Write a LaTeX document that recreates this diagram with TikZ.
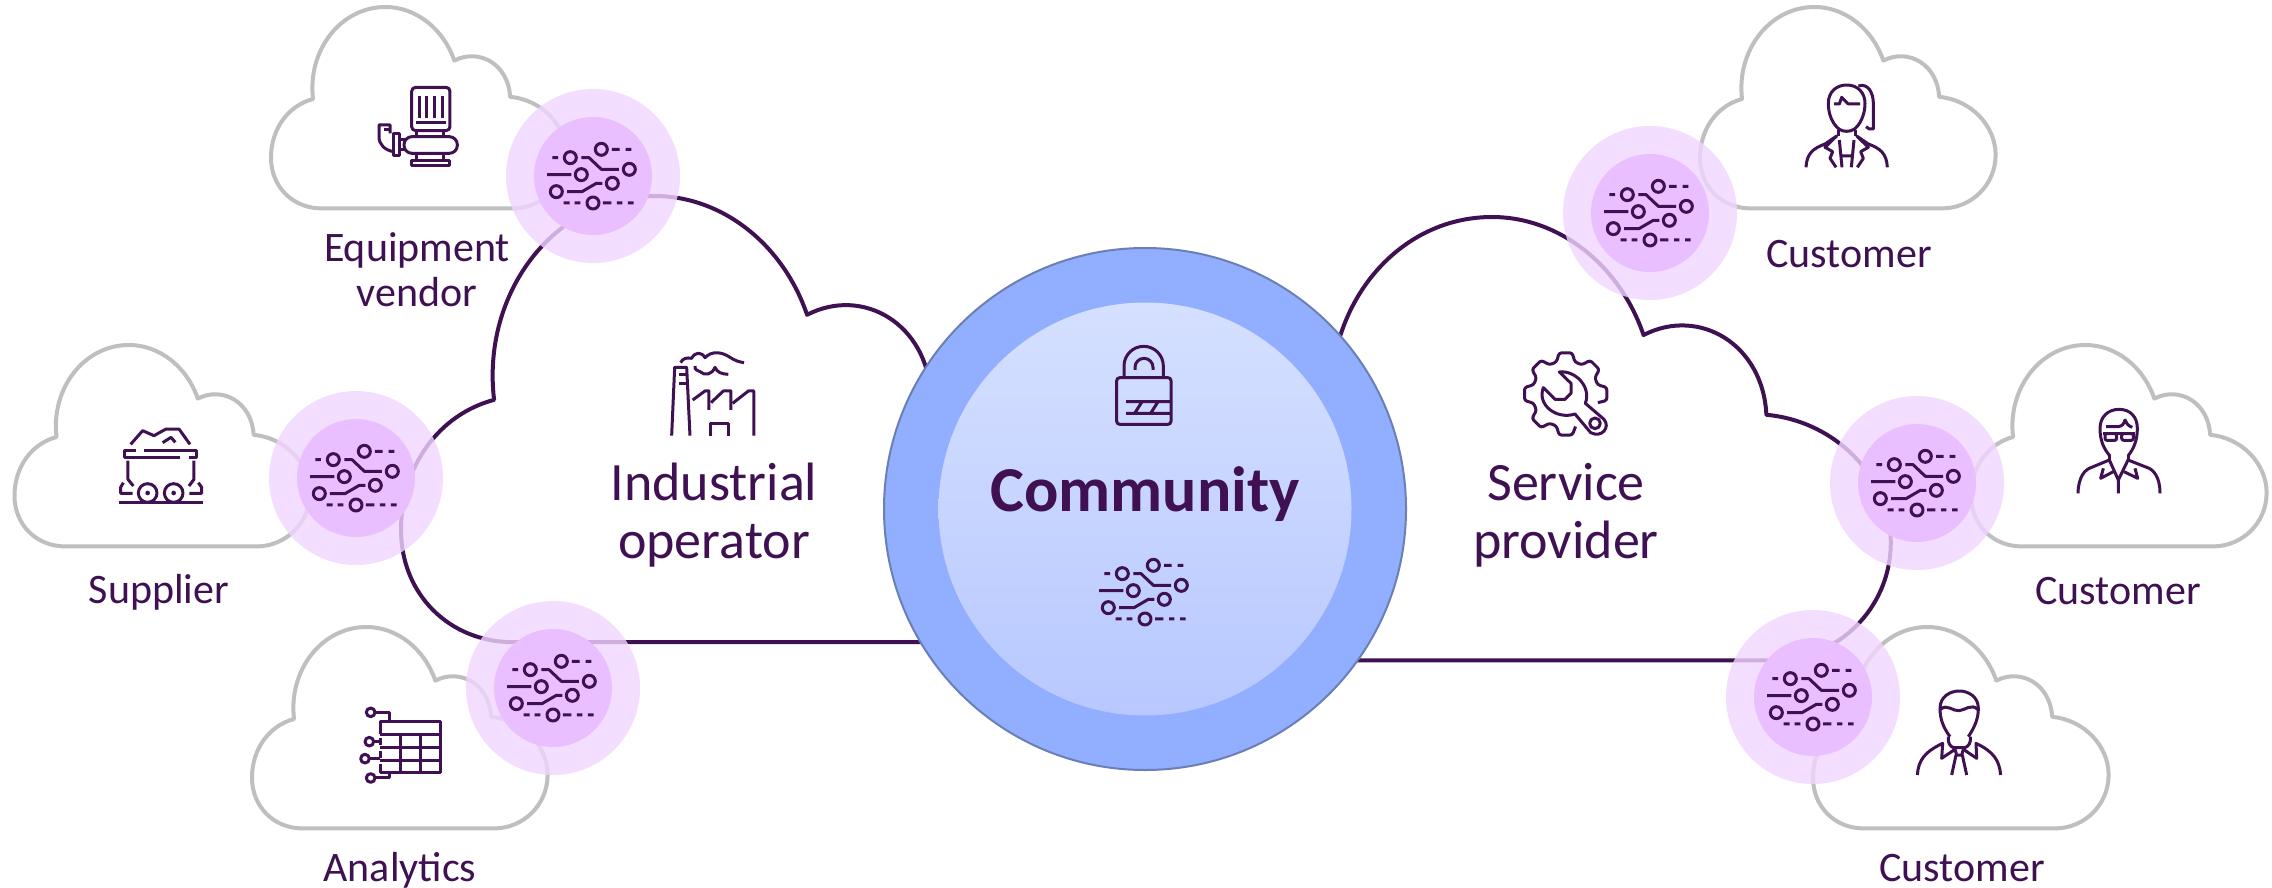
\documentclass[tikz,border=0pt]{standalone}
\usepackage{fontspec}
\setmainfont{Carlito}
\definecolor{dark}{HTML}{3F1152}
\definecolor{cloudgray}{HTML}{BFBFBF}
\definecolor{ringc}{HTML}{F1D6FF}
\definecolor{corec}{HTML}{EABFFF}
\definecolor{commouter}{HTML}{92AEFF}
\definecolor{commedge}{HTML}{6A7FB5}
\definecolor{commtop}{HTML}{D5E0FF}
\definecolor{commbot}{HTML}{B8C8FF}
\tikzset{
  icon/.style={draw=dark,line width=3pt,line cap=butt,line join=round},
  smallcloud/.style={draw=cloudgray,line width=4pt,fill=white,line join=round},
  bigcloud/.style={draw=dark,line width=4pt,fill=white,line join=round},
  smalllabel/.style={text=dark,font=\fontsize{42}{46}\selectfont,anchor=base,inner sep=0pt},
  biglabel/.style={text=dark,font=\fontsize{54}{60}\selectfont,anchor=base,inner sep=0pt},
  titlelabel/.style={text=dark,font=\fontsize{64}{68}\selectfont\bfseries,anchor=base,inner sep=0pt}
}
\newcommand{\mycloud}[4]{%
\begin{scope}[shift={(#1,#2)},x=#3pt,y=-#3pt]
\draw[#4] (35,139) .. controls (15,139) and (0,124) .. (0,104)
 .. controls (0,84) and (12,68) .. (29,63.5)
 .. controls (25,30) and (48,0) .. (79,0)
 .. controls (100,0) and (119,15) .. (126.5,37)
 .. controls (144,28) and (164,40) .. (165,62)
 .. controls (187,64) and (204,82) .. (204,102)
 .. controls (204,123) and (187,139) .. (167,139) -- cycle;
\end{scope}}
\newcommand{\chipicon}[2]{%
\begin{scope}[shift={({#1-113.33},{#2-175.67})},x=0.3333pt,y=-0.3333pt]
\draw[icon] (272,472) circle[radius=18] (365,447) circle[radius=18] (449,507) circle[radius=18]
 (305,523) circle[radius=18] (398,549) circle[radius=18] (230,574) circle[radius=18] (340,608) circle[radius=18];
\draw[icon] (218,472)--(235,472) (305,472)--(328,472)--(365,507)--(418,507)
 (397,447)--(420,447) (438,447)--(455,447) (202,523)--(275,523)
 (262,574)--(307,574)--(350,549)--(368,549)
 (252,608)--(270,608) (285,608)--(302,608) (370,608)--(395,608) (412,608)--(428,608) (445,608)--(462,608);
\end{scope}}
\newcommand{\chiprings}[2]{%
\fill[ringc,opacity=.8] (#1,#2) circle[radius=87];
\fill[corec] (#1,#2) circle[radius=59];
\chipicon{#1}{#2}}
\begin{document}
\begin{tikzpicture}[x=1pt,y=-1pt]
\useasboundingbox (0,0) rectangle (2272,888);
\fill[white] (0,0) rectangle (2272,888);
% big clouds
\mycloud{401}{196}{3.21}{bigcloud}
\mycloud{1240}{217}{3.19}{bigcloud}
% small clouds
\mycloud{271}{7}{1.449}{smallcloud}
\mycloud{14.5}{345}{1.449}{smallcloud}
\mycloud{252}{627}{1.449}{smallcloud}
\mycloud{1700}{7}{1.449}{smallcloud}
\mycloud{1971}{345}{1.449}{smallcloud}
\mycloud{1813}{627}{1.449}{smallcloud}
% chip circles
\chiprings{593}{176}
\chiprings{1650}{213}
\chiprings{356}{478}
\chiprings{553}{688}
\chiprings{1917}{483}
\chiprings{1813}{697}
% community
\fill[commouter,draw=commedge,line width=2pt] (1145,509) circle[radius=261];
\shade[top color=commtop,bottom color=commbot] (1145,509) circle[radius=206.5];
\chipicon{1145}{592}
% lock
\begin{scope}[shift={(1090,330)},x=0.3333pt,y=-0.3333pt]
\draw[icon,rounded corners=3pt] (80,143) rectangle (243,283);
\draw[icon] (102,143) -- (102,108) arc[start angle=180,end angle=360,radius=59] -- (220,143);
\draw[icon] (135,120) -- (135,112) arc[start angle=180,end angle=360,radius=27] -- (189,120);
\draw[icon] (108,215)--(240,215) (108,250)--(240,250) (135,248)--(155,217) (183,248)--(203,217);
\end{scope}
% factory
\begin{scope}[shift={(600,320)},x=0.3333pt,y=-0.3333pt]
\draw[icon] (215,347)--(224,142)--(260,142)--(270,347);
\draw[icon] (238,163)--(262,163) (238,190)--(265,190);
\draw[icon] (278,240)--(315,213)--(327,213)--(327,270);
\draw[icon] (333,248)--(370,213)--(393,213)--(393,270);
\draw[icon] (398,250)--(445,213)--(462,213)--(462,347);
\draw[icon] (333,347)--(333,312)--(385,312)--(385,347);
\draw[icon] (242,128) .. controls (248,115) and (260,112) .. (275,115)
 .. controls (285,95) and (305,95) .. (315,113)
 .. controls (335,92) and (365,95) .. (390,112) .. controls (405,122) and (418,126) .. (432,128);
\draw[icon] (285,138) .. controls (282,150) and (295,152) .. (300,155)
 .. controls (315,168) and (335,165) .. (345,142)
 .. controls (352,158) and (365,162) .. (385,163);
\end{scope}
% cart
\begin{scope}[shift={(90,410)},x=0.3333pt,y=-0.3333pt]
\draw[icon] (122,103)--(158,62)--(192,77)--(228,57)--(267,57)--(300,103);
\draw[icon] (218,98)--(243,82)--(256,97);
\draw[icon] (138,122)--(105,122)--(105,142)--(270,142) (163,122)--(320,122)--(320,142)--(298,142);
\draw[icon] (114,152)--(114,208)--(130,228) (312,152)--(312,208)--(297,228);
\draw[icon] (100,218)--(92,232)--(92,250)--(128,250) (325,218)--(335,232)--(335,250)--(298,250);
\draw[icon] (173,249) circle[radius=28] (251,249) circle[radius=28];
\fill[dark] (173,249) circle[radius=7] (251,249) circle[radius=7];
\draw[icon] (88,278)--(338,278);
\end{scope}
% table
\begin{scope}[shift={(340,690)},x=0.3333pt,y=-0.3333pt]
\draw[icon] (120,133)--(120,95)--(303,95)--(303,248)--(120,248)--(120,222);
\draw[icon] (120,133)--(303,133) (120,172)--(303,172) (120,212)--(303,212);
\draw[icon] (182,133)--(182,248) (242,133)--(242,248);
\draw[icon] (120,145)--(120,165) (120,183)--(120,205);
\draw[icon] (92,67) circle[radius=13] (88,155) circle[radius=13] (75,206) circle[radius=13] (92,264) circle[radius=13];
\draw[icon] (105,67)--(148,67)--(148,95) (101,155)--(120,155) (88,206)--(120,206) (105,264)--(148,264)--(148,248);
\end{scope}
% pump
\begin{scope}[shift={(360,70)},x=0.3333pt,y=-0.3333pt]
\draw[icon,rounded corners=4pt] (155,52) rectangle (270,182);
\draw[icon] (178,78)--(178,145) (201,78)--(201,145) (225,78)--(225,145) (248,78)--(248,145) (168,158)--(258,158);
\draw[icon] (170,182)--(170,200) (252,182)--(252,200);
\draw[icon,rounded corners=8pt] (132,200) rectangle (292,250);
\draw[icon] (170,250)--(170,272) (252,250)--(252,272);
\draw[icon] (155,272) rectangle (268,288);
\draw[icon] (100,190) rectangle (118,258);
\draw[icon] (118,208)--(135,208) (118,240)--(135,240);
\draw[icon] (100,245) .. controls (75,240) and (57,225) .. (57,200) -- (57,165) -- (90,165) -- (90,190);
\draw[icon] (72,178)--(88,178);
\end{scope}
% gear + wrench
\begin{scope}[shift={(1500,340)},x=0.3333pt,y=-0.3333pt]
\begin{scope}[shift={(197,162)}]
\draw[icon,rounded corners=2.5pt] (15:100)--(9:125)--(-9:125)--(-16:100)
 --(-29:100)--(-36:125)--(-54:125)--(-61:100)
 --(-74:100)--(-81:125)--(-99:125)--(-106:100)
 --(-119:100)--(-126:125)--(-144:125)--(-151:100)
 --(-164:100)--(-171:125)--(-189:125)--(-196:100)
 --(-209:100)--(-216:125)--(-234:125)--(-241:100)
 --(-254:100)--(-261:125)--(-279:125)--(-287:102);
\end{scope}
\draw[icon] (178,96) .. controls (225,90) and (275,140) .. (256,190)
 -- (312,238) .. controls (332,262) and (305,295) .. (272,278)
 -- (225,222) .. controls (170,240) and (110,195) .. (130,143)
 -- (165,178) -- (195,178) -- (213,160) -- (213,130) -- cycle;
\draw[icon] (285,250) circle[radius=16];
\end{scope}
% woman
\begin{scope}[shift={(1780,60)},x=0.3333pt,y=-0.3333pt]
\draw[icon] (178,208) .. controls (155,190) and (145,160) .. (145,130) .. controls (145,95) and (170,75) .. (200,75)
 .. controls (235,75) and (255,100) .. (255,130) .. controls (255,165) and (240,195) .. (222,208)
 .. controls (210,216) and (190,216) .. (178,208);
\draw[icon] (235,78) .. controls (265,68) and (280,100) .. (280,130) -- (280,207) -- (268,207) -- (258,200);
\draw[icon] (162,132)--(178,132)--(185,112)--(205,132)--(240,132);
\draw[icon] (175,210)--(175,228) (225,210)--(225,228);
\draw[icon] (78,322) .. controls (80,280) and (100,265) .. (135,252) -- (170,228) -- (135,262)--(158,275)--(150,295)--(168,322);
\draw[icon] (322,322) .. controls (320,280) and (300,265) .. (265,252) -- (230,228) -- (265,262)--(242,275)--(250,295)--(232,322);
\draw[icon] (178,240)--(186,322) (222,240)--(214,322) (185,288)--(215,288);
\end{scope}
% man with glasses
\begin{scope}[shift={(2050,390)},x=0.3333pt,y=-0.3333pt]
\draw[icon] (180,198) .. controls (160,175) and (150,150) .. (150,115) .. controls (150,80) and (175,58) .. (207,58)
 .. controls (240,58) and (262,80) .. (262,115) .. controls (262,150) and (252,175) .. (234,198);
\draw[icon] (168,110)--(205,110) .. controls (218,108) and (222,100) .. (225,90) .. controls (228,100) and (235,108) .. (247,112);
\draw[icon] (160,131)--(255,131);
\draw[icon,rounded corners=2pt] (165,131) rectangle (200,151) (215,131) rectangle (250,151);
\draw[icon] (178,195)--(178,210) (234,195)--(234,210);
\draw[icon] (84,310) .. controls (85,260) and (105,238) .. (125,232) -- (178,210) -- (205,270) -- (234,210) -- (290,232) .. controls (310,238) and (330,260) .. (330,310);
\draw[icon] (160,235)--(152,265)--(190,245) (255,235)--(263,265)--(222,245) (205,270)--(205,310);
\end{scope}
% man with tie
\begin{scope}[shift={(1900,680)},x=0.3333pt,y=-0.3333pt]
\draw[icon] (150,170) .. controls (128,140) and (120,115) .. (120,85) .. controls (120,50) and (150,33) .. (178,33)
 .. controls (205,33) and (235,50) .. (235,85) .. controls (235,115) and (225,140) .. (205,170);
\draw[icon] (122,88) .. controls (140,70) and (160,95) .. (178,92) .. controls (195,90) and (215,70) .. (233,88);
\draw[icon] (145,170) .. controls (143,190) and (150,198) .. (160,203) -- (195,203) .. controls (206,198) and (213,190) .. (211,170);
\draw[icon] (52,285) .. controls (55,240) and (75,215) .. (128,190) -- (125,235) -- (165,208);
\draw[icon] (302,285) .. controls (298,240) and (280,215) .. (228,190) -- (230,235) -- (190,208);
\draw[icon] (165,208)--(170,225)--(185,225)--(190,208) (168,225)--(155,285) (187,225)--(200,285);
\end{scope}
% labels
\node[smalllabel] (lequip) at (417,261) {Equipment};
\node[smalllabel] (lvendor) at (417,306) {vendor};
\node[smalllabel] (lsupplier) at (159,603) {Supplier};
\node[smalllabel] (lanalytics) at (400,881) {Analytics};
\node[smalllabel] (lcusta) at (1849,267) {Customer};
\node[smalllabel] (lcustb) at (2118,604) {Customer};
\node[smalllabel] (lcustc) at (1962,881) {Customer};
\node[biglabel] (lindustrial) at (714,500) {Industrial};
\node[biglabel] (loperator) at (714,558) {operator};
\node[biglabel] (lservice) at (1566,500) {Service};
\node[biglabel] (lprovider) at (1566,558) {provider};
\node[titlelabel] (lcommunity) at (1145,511) {Community};
\end{tikzpicture}
\end{document}
